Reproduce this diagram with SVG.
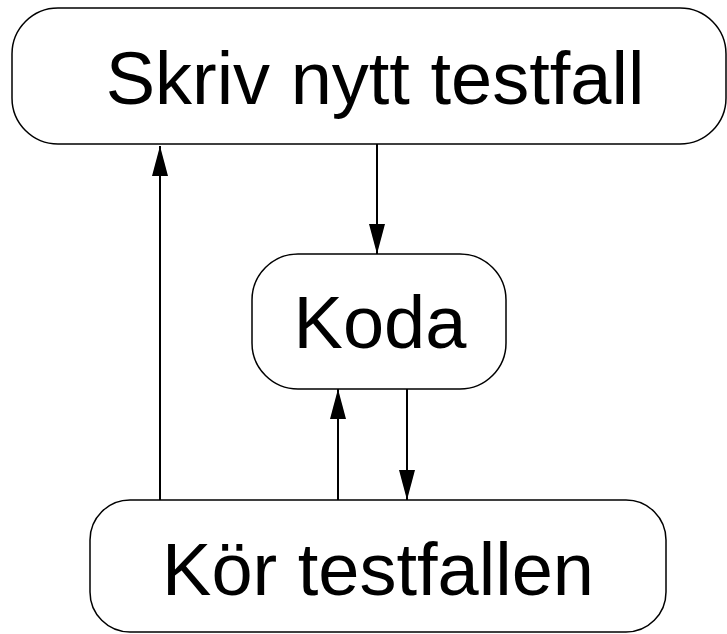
<svg xmlns="http://www.w3.org/2000/svg" width="727" height="634" viewBox="0 0 727 634">
<defs>
<marker id="ah" viewBox="0 0 30 16" refX="30" refY="8" markerWidth="30" markerHeight="16" markerUnits="userSpaceOnUse" orient="auto">
<path d="M0,0 L30,8 L0,16 Z" fill="#000"/>
</marker>
</defs>
<style>
.box{fill:#fff;stroke:#000;stroke-width:1.5}
.lbl{font-family:"Liberation Sans",Arial,sans-serif;font-size:74px;fill:#000;text-anchor:middle}
.edge{stroke:#000;stroke-width:2;fill:none;marker-end:url(#ah)}
</style>
<rect width="727" height="634" fill="#fff"/>
<g id="connectors">
<line class="edge" x1="160" y1="500" x2="160" y2="146"/>
<line class="edge" x1="377" y1="144" x2="377" y2="254"/>
<line class="edge" x1="338" y1="500" x2="338" y2="389"/>
<line class="edge" x1="407" y1="389" x2="407" y2="500"/>
</g>
<g id="skriv">
<rect class="box" x="12" y="8" width="714" height="136" rx="46" ry="46"/>
<text class="lbl" x="375" y="104">Skriv nytt testfall</text>
</g>
<g id="koda">
<rect class="box" x="252" y="254" width="254" height="135" rx="46" ry="46"/>
<text class="lbl" x="380" y="348">Koda</text>
</g>
<g id="kor">
<rect class="box" x="90" y="500" width="576" height="132" rx="40" ry="40"/>
<text class="lbl" x="378" y="595">Kör testfallen</text>
</g>
</svg>
